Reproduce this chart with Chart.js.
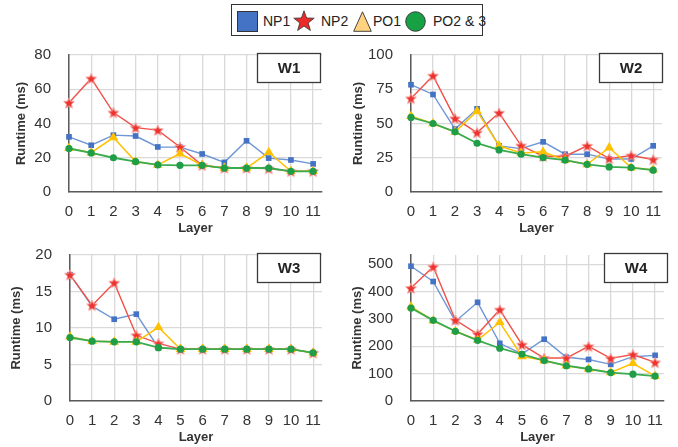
<!DOCTYPE html>
<html>
<head>
<meta charset="utf-8">
<script src="https://cdn.jsdelivr.net/npm/chart.js@4.4.1/dist/chart.umd.min.js"></script>
<style>
  body { margin: 0; background: #fff; width: 678px; height: 447px; position: relative; overflow: hidden;
         font-family: "Liberation Sans", Arial, sans-serif; }
  canvas { position: absolute; }
  #legend { position: absolute; left: 231px; top: 4px; width: 252px; height: 32px; box-sizing: border-box;
            border: 1px solid #333; background: #fff; }
  #legend svg, #legend span { position: absolute; }
  #legend span { top: 8px; font-size: 14px; line-height: 16px; color: #222; white-space: nowrap; }
</style>
</head>
<body>
<div id="legend"></div>
<canvas id="c1" width="339" height="200" style="left:0;top:40px"></canvas>
<canvas id="c2" width="339" height="200" style="left:339px;top:40px"></canvas>
<canvas id="c3" width="339" height="207" style="left:0;top:240px"></canvas>
<canvas id="c4" width="339" height="207" style="left:339px;top:240px"></canvas>
<script>
// categorías y series
const layers = [0, 1, 2, 3, 4, 5, 6, 7, 8, 9, 10, 11];
const seriesNames = ['NP1', 'NP2', 'PO1', 'PO2 & 3'];

const w1NP1 = [32.2, 27.3, 33.2, 32.7, 26.3, 26.2, 22.2, 17.3, 29.9, 19.8, 18.7, 16.4];
const w1NP2 = [52.1, 66.3, 46.4, 37.6, 36.1, 26.3, 15.6, 14.0, 14.0, 13.7, 12.1, 12.1];
const w1PO1 = [25.6, 23.0, 31.8, 17.8, 15.8, 22.4, 15.6, 14.0, 14.0, 23.2, 12.1, 12.1];
const w1PO23 = [25.4, 22.8, 20.0, 17.7, 15.8, 15.6, 15.6, 14.0, 14.0, 14.0, 12.1, 12.1];

const w2NP1 = [78.3, 71.2, 45.9, 60.7, 33.7, 31.7, 36.6, 27.6, 27.6, 24.1, 24.1, 33.7];
const w2NP2 = [68.3, 84.9, 53.7, 43.4, 57.8, 33.9, 26.1, 26.1, 33.7, 24.4, 26.6, 23.7];
const w2PO1 = [55.4, 50.0, 43.9, 59.0, 33.7, 28.5, 29.3, 23.2, 20.2, 32.4, 17.8, 16.3];
const w2PO23 = [54.4, 50.0, 43.9, 35.6, 30.7, 27.6, 25.1, 23.2, 20.2, 18.3, 17.8, 15.9];

const w3NP1 = [17.3, 13.0, 11.2, 11.9, 7.3, 7.1, 7.1, 7.1, 7.1, 7.1, 7.1, 6.6];
const w3NP2 = [17.3, 13.1, 16.2, 9.0, 7.9, 7.1, 7.1, 7.1, 7.1, 7.1, 7.1, 6.6];
const w3PO1 = [8.8, 8.2, 8.1, 8.1, 10.1, 7.1, 7.1, 7.1, 7.1, 7.1, 7.1, 6.6];
const w3PO23 = [8.7, 8.2, 8.1, 8.1, 7.3, 7.1, 7.1, 7.1, 7.1, 7.1, 7.1, 6.6];

const w4NP1 = [493, 437, 291, 361, 211, 172, 226, 160, 152, 134, 162, 167];
const w4NP2 = [413, 491, 296, 245, 334, 206, 157, 157, 200, 156, 170, 141];
const w4PO1 = [345, 294, 255, 223, 288, 163, 148, 129, 117, 104, 138, 91];
const w4PO23 = [340, 295, 255, 222, 193, 171, 148, 129, 117, 104, 98, 91];

// marcas del eje Y
const w1Ticks = [0, 20, 40, 60, 80];
const w2Ticks = [0, 25, 50, 75, 100];
const w3Ticks = [0, 5, 10, 15, 20];
const w4Ticks = [0, 100, 200, 300, 400, 500];

const FONT = '"Liberation Sans", Arial, sans-serif';
Chart.defaults.font.family = FONT;

// estrella rellena (Chart.js no trae una de cinco puntas)
function starImage(r, fill, edge) {
    const size = Math.ceil(r * 2 + 2);
    const c = document.createElement('canvas');
    c.width = c.height = size;
    const g = c.getContext('2d');
    g.beginPath();
    for (let i = 0; i < 10; i++) {
        const rad = i % 2 ? r * 0.45 : r;
        const a = -Math.PI / 2 + i * Math.PI / 5;
        g.lineTo(size / 2 + rad * Math.cos(a), size / 2 + 0.6 + rad * Math.sin(a));
    }
    g.closePath();
    g.fillStyle = fill;
    g.fill();
    g.strokeStyle = edge;
    g.lineWidth = 1;
    g.stroke();
    return c;
}
const star = starImage(5.6, '#ec3330', '#f59a94');

// cuadro con el nombre del panel
const panelTitle = {
    id: 'panelTitle',
    afterDraw(chart, args, opts) {
        const { ctx, chartArea: a } = chart;
        const w = 64, h = 30;
        const x = a.right - w + (opts.dx || 0), y = a.top - 2;
        ctx.save();
        ctx.fillStyle = '#fff';
        ctx.fillRect(x, y, w, h);
        ctx.strokeStyle = '#3a3a3a';
        ctx.lineWidth = 1.3;
        ctx.strokeRect(x + 0.5, y + 0.5, w - 1, h - 1);
        ctx.fillStyle = '#222';
        ctx.font = 'bold 15px ' + FONT;
        ctx.textAlign = 'center';
        ctx.textBaseline = 'middle';
        ctx.fillText(opts.text, x + w / 2, y + h / 2 + 1);
        ctx.restore();
    }
};

function pts(values) {
    return values.map((v, i) => ({ x: layers[i], y: v }));
}

function makePanel(id, name, series, yTicks, yMax, g) {
    const styles = [
        { line: '#6f96d6', pt: '#4472c4', style: 'rect', r: 4, w: 1.4, order: 4 },
        { line: '#ef5148', pt: '#ec3330', style: star, r: 6, w: 1.4, order: 3 },
        { line: '#ffc000', pt: '#ffc000', style: 'triangle', r: 5.6, w: 1.5, order: 2 },
        { line: '#3aac4e', pt: '#1f9e47', style: 'circle', r: 3.6, w: 1.8, order: 1 }
    ];
    return new Chart(document.getElementById(id), {
        type: 'line',
        data: {
            datasets: series.map((s, i) => ({
                label: seriesNames[i],
                data: pts(s),
                borderColor: styles[i].line,
                borderWidth: styles[i].w,
                backgroundColor: styles[i].pt,
                pointBackgroundColor: styles[i].pt,
                pointBorderColor: styles[i].pt,
                pointBorderWidth: 0,
                pointStyle: styles[i].style,
                pointRadius: styles[i].r,
                pointHoverRadius: styles[i].r,
                tension: 0,
                clip: false,
                order: styles[i].order
            }))
        },
        options: {
            responsive: false,
            animation: false,
            devicePixelRatio: 1,
            layout: { padding: { top: 15, right: g.right, left: 0, bottom: 0 } },
            plugins: {
                legend: { display: false },
                tooltip: { enabled: false },
                panelTitle: { text: name, dx: g.dx }
            },
            scales: {
                x: {
                    type: 'linear', min: 0, max: 11.4,
                    ticks: { stepSize: 1, includeBounds: false, autoSkip: false, maxRotation: 0,
                             padding: 11, color: '#333', font: { size: 15 } },
                    grid: { color: '#d9d9d9', lineWidth: 1.3, drawTicks: false },
                    border: { color: '#5a5a5a', width: 1.5 },
                    title: { display: true, text: 'Layer', color: '#333',
                             font: { size: 13, weight: 'bold' }, padding: { top: 0, bottom: g.layerPad } },
                    afterFit: s => {
                        s.height = g.xh;
                        s.paddingLeft = 0;
                        s.paddingRight = 0;
                    }
                },
                y: {
                    min: 0, max: yMax,
                    afterBuildTicks: s => { s.ticks = yTicks.map(v => ({ value: v })); },
                    ticks: { padding: 18, color: '#333', font: { size: 15 } },
                    grid: { color: '#d9d9d9', lineWidth: 1.3, drawTicks: false },
                    border: { color: '#5a5a5a', width: 1.5 },
                    title: { display: true, text: 'Runtime (ms)', color: '#333',
                             font: { size: 13, weight: 'bold' }, padding: { top: g.titlePad, bottom: 0 } },
                    afterFit: s => {
                        s.width = g.yw;
                        s.paddingTop = 0;
                        s.paddingBottom = 0;
                    }
                }
            }
        },
        plugins: [panelTitle]
    });
}

makePanel('c1', 'W1', [w1NP1, w1NP2, w1PO1, w1PO23], w1Ticks, 80,
    { yw: 69, right: 17, xh: 48, titlePad: 14, layerPad: 4, dx: -1 });
makePanel('c2', 'W2', [w2NP1, w2NP2, w2PO1, w2PO23], w2Ticks, 100,
    { yw: 72, right: 16, xh: 48, titlePad: 12, layerPad: 4, dx: 1 });
makePanel('c3', 'W3', [w3NP1, w3NP2, w3PO1, w3PO23], w3Ticks, 20,
    { yw: 70, right: 17, xh: 46, titlePad: 9, layerPad: 2, dx: -1 });
makePanel('c4', 'W4', [w4NP1, w4NP2, w4PO1, w4PO23], w4Ticks, 534,
    { yw: 72, right: 14, xh: 46, titlePad: 11, layerPad: 2, dx: 4 });

// leyenda común arriba
const legendIcons = [
    '<svg width="21" height="21"><rect x="0.5" y="0.5" width="20" height="20" fill="#4472c4" stroke="#333"/></svg>',
    '<svg width="22" height="22"><polygon points="11,0.8 13.6,8 21.2,8.2 15.2,12.9 17.4,20.5 11,16.1 4.6,20.5 6.8,12.9 0.8,8.2 8.4,8" fill="#ec2a2a" stroke="#333" stroke-width="0.8"/></svg>',
    '<svg width="19" height="21"><polygon points="9.5,0.8 18.3,20.3 0.7,20.3" fill="#ffd27f" stroke="#333" stroke-width="0.9"/></svg>',
    '<svg width="21" height="21"><circle cx="10.5" cy="10.5" r="9.8" fill="#17a044" stroke="#333" stroke-width="0.9"/></svg>'
];
const iconLeft = [5, 61, 121, 173];
const textLeft = [31, 89, 141, 201];
const legend = document.getElementById('legend');
seriesNames.forEach((name, i) => {
    legend.insertAdjacentHTML('beforeend',
        legendIcons[i].replace('<svg', `<svg style="left:${iconLeft[i]}px;top:${i === 1 ? 5 : 6}px"`) +
        `<span style="left:${textLeft[i]}px">${name}</span>`);
});
</script>
</body>
</html>
